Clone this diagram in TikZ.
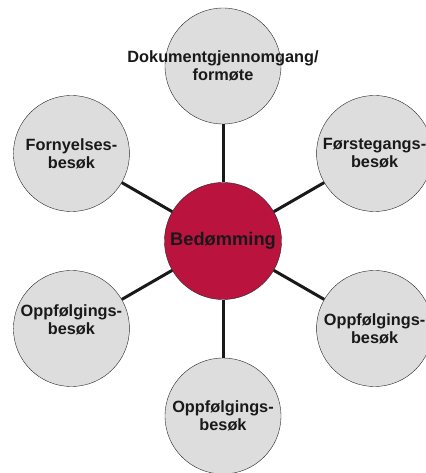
\documentclass[tikz,border=0pt]{standalone}
\usepackage{fontspec}
\setmainfont{Liberation Sans}
\usepackage{tikz}
\usetikzlibrary{positioning}
\definecolor{bedred}{HTML}{BA143E}
\definecolor{circgray}{HTML}{DDDDDD}
\tikzset{
  circOut/.style={ draw=black!85, circle, fill=circgray, minimum size=116pt, inner sep=0pt,
    align=center, text=black!90, font=\bfseries\fontsize{16.3}{18}\selectfont }
}
\tikzset{
  circMid/.style={ draw=black!85, circle, fill=bedred, minimum size=117pt, inner sep=0pt,
    text=black!90, font=\bfseries\fontsize{18.3}{20}\selectfont }
}
\tikzset{
  txtUp/.style={ yshift=9pt, align=center, text=black!90, font=\bfseries\fontsize{16.3}{18}\selectfont }
}
\tikzset{
  spoke/.style={ line width=3pt, draw=black!90 }
}
\begin{document}
\begin{tikzpicture}[x=1pt, y=1pt]
      \useasboundingbox (-223,-232) rectangle (202,241);
      \node[circMid] (bed) at (0, 0) {Bedømming};
      \node[circOut] (dok) at (90:175) {\makebox[0pt]{Dokumentgjennomgang/}\\formøte};
      \node[circOut] (forst) at (30:175) {Førstegangs-\\besøk};
      \node[circOut] (oppR) at (-30:175) {Oppfølgings-\\besøk};
      \node[circOut] (oppB) at (-90:175) {Oppfølgings-\\besøk};
      \node[circOut, label={[txtUp]center:Oppfølgings-\\besøk}] (oppL) at (210:175) {};
      \node[circOut] (forn) at (150:175) {Fornyelses-\\besøk};
      \draw[spoke] (bed) -- (dok);
      \draw[spoke] (bed) -- (forst);
      \draw[spoke] (bed) -- (oppR);
      \draw[spoke] (bed) -- (oppB);
      \draw[spoke] (bed) -- (oppL);
      \draw[spoke] (bed) -- (forn);
    \end{tikzpicture}
\end{document}
